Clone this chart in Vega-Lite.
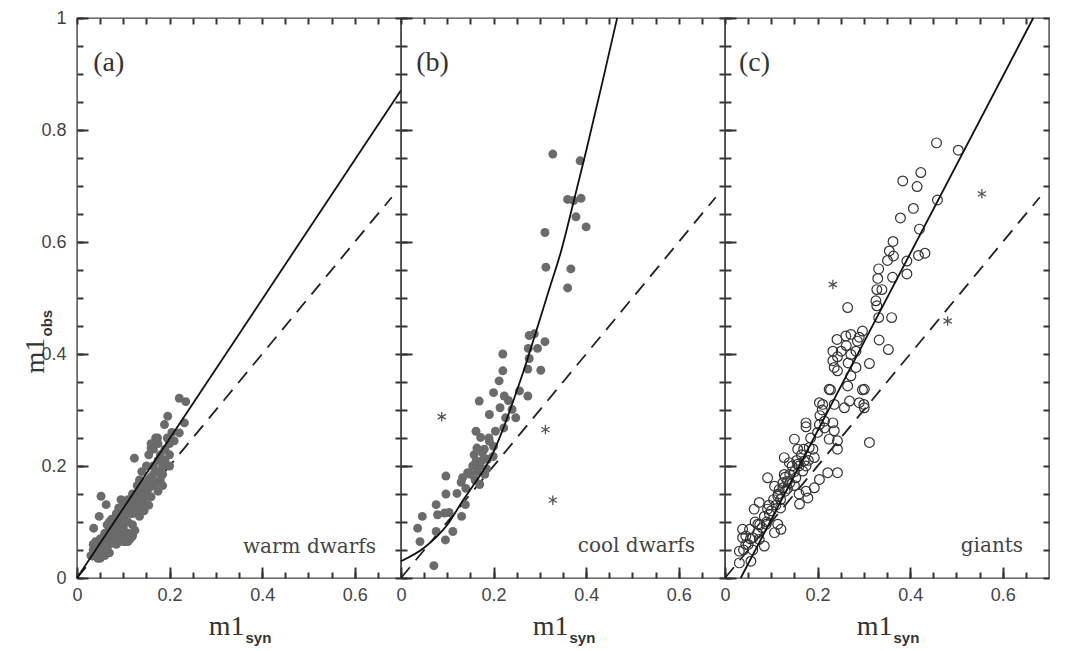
{
  "$schema": "https://vega.github.io/schema/vega-lite/v6.json",
  "padding": {"left": 20, "top": 8, "right": 5, "bottom": 0},
  "background": "white",
  "spacing": 0,
  "bounds": "flush",
  "config": {
    "view": {"stroke": "#444", "strokeWidth": 1.4},
    "axis": {"domain": false, "grid": false, "ticks": true, "tickColor": "#333333", "tickWidth": 2, "labelFont": "Liberation Sans", "labelFontSize": 18, "labelColor": "#444", "labelOverlap": false, "labelBound": false, "labelFlush": false, "zindex": 1, "titleFontWeight": "normal"}
  },
  "datasets": {
    "warm": [
      {"x":0.03,"y":0.04},{"x":0.035,"y":0.05},{"x":0.04,"y":0.045},{"x":0.045,"y":0.06},{"x":0.05,"y":0.04},{"x":0.05,"y":0.055},{"x":0.055,"y":0.065},{"x":0.06,"y":0.05},{"x":0.06,"y":0.07},{"x":0.065,"y":0.08},{"x":0.04,"y":0.065},{"x":0.035,"y":0.06},{"x":0.045,"y":0.035},{"x":0.055,"y":0.045},{"x":0.07,"y":0.06},{"x":0.07,"y":0.085},{"x":0.075,"y":0.07},{"x":0.08,"y":0.09},{"x":0.08,"y":0.1},{"x":0.085,"y":0.075},{"x":0.09,"y":0.065},{"x":0.09,"y":0.1},{"x":0.095,"y":0.11},{"x":0.1,"y":0.075},{"x":0.1,"y":0.09},{"x":0.105,"y":0.12},{"x":0.105,"y":0.065},{"x":0.11,"y":0.08},{"x":0.11,"y":0.1},{"x":0.115,"y":0.13},{"x":0.115,"y":0.07},{"x":0.12,"y":0.095},{"x":0.12,"y":0.115},{"x":0.125,"y":0.14},{"x":0.125,"y":0.085},{"x":0.13,"y":0.12},{"x":0.13,"y":0.15},{"x":0.135,"y":0.11},{"x":0.135,"y":0.13},{"x":0.14,"y":0.135},{"x":0.14,"y":0.16},{"x":0.145,"y":0.14},{"x":0.145,"y":0.12},{"x":0.15,"y":0.15},{"x":0.15,"y":0.17},{"x":0.155,"y":0.13},{"x":0.155,"y":0.16},{"x":0.16,"y":0.18},{"x":0.16,"y":0.145},{"x":0.165,"y":0.2},{"x":0.165,"y":0.165},{"x":0.17,"y":0.17},{"x":0.17,"y":0.19},{"x":0.175,"y":0.21},{"x":0.175,"y":0.155},{"x":0.18,"y":0.22},{"x":0.18,"y":0.175},{"x":0.185,"y":0.2},{"x":0.185,"y":0.185},{"x":0.185,"y":0.165},{"x":0.19,"y":0.21},{"x":0.19,"y":0.23},{"x":0.195,"y":0.25},{"x":0.2,"y":0.24},{"x":0.2,"y":0.22},{"x":0.17,"y":0.25},{"x":0.16,"y":0.24},{"x":0.165,"y":0.23},{"x":0.175,"y":0.24},{"x":0.155,"y":0.22},{"x":0.15,"y":0.2},{"x":0.14,"y":0.19},{"x":0.135,"y":0.175},{"x":0.13,"y":0.165},{"x":0.12,"y":0.15},{"x":0.11,"y":0.14},{"x":0.1,"y":0.135},{"x":0.095,"y":0.14},{"x":0.09,"y":0.125},{"x":0.085,"y":0.115},{"x":0.075,"y":0.105},{"x":0.07,"y":0.1},{"x":0.065,"y":0.095},{"x":0.06,"y":0.08},{"x":0.124,"y":0.214},{"x":0.052,"y":0.146},{"x":0.063,"y":0.131},{"x":0.048,"y":0.11},{"x":0.036,"y":0.089},{"x":0.095,"y":0.077},{"x":0.088,"y":0.065},{"x":0.221,"y":0.321},{"x":0.235,"y":0.315},{"x":0.196,"y":0.289},{"x":0.189,"y":0.274},{"x":0.232,"y":0.277},{"x":0.221,"y":0.259},{"x":0.174,"y":0.25},{"x":0.16,"y":0.232},{"x":0.205,"y":0.26},{"x":0.21,"y":0.245},{"x":0.2,"y":0.2},{"x":0.175,"y":0.19},{"x":0.165,"y":0.185},{"x":0.155,"y":0.175},{"x":0.145,"y":0.165},{"x":0.14,"y":0.145},{"x":0.13,"y":0.14},{"x":0.125,"y":0.125},{"x":0.115,"y":0.115},{"x":0.105,"y":0.1},{"x":0.1,"y":0.11},{"x":0.095,"y":0.095},{"x":0.09,"y":0.085},{"x":0.08,"y":0.08},{"x":0.075,"y":0.085},{"x":0.065,"y":0.07},{"x":0.06,"y":0.06},{"x":0.05,"y":0.07},{"x":0.042,"y":0.05},{"x":0.038,"y":0.04},{"x":0.05,"y":0.035},{"x":0.06,"y":0.04},{"x":0.065,"y":0.05},{"x":0.07,"y":0.045},{"x":0.08,"y":0.065},{"x":0.085,"y":0.06},{"x":0.11,"y":0.065},{"x":0.12,"y":0.075},{"x":0.1,"y":0.065}
    ],
    "cool": [
      {"x":0.328,"y":0.757},{"x":0.387,"y":0.745},{"x":0.36,"y":0.676},{"x":0.373,"y":0.674},{"x":0.389,"y":0.678},{"x":0.378,"y":0.645},{"x":0.4,"y":0.627},{"x":0.311,"y":0.617},{"x":0.313,"y":0.555},{"x":0.367,"y":0.552},{"x":0.36,"y":0.518},
      {"x":0.277,"y":0.433},{"x":0.288,"y":0.436},{"x":0.275,"y":0.41},{"x":0.295,"y":0.41},{"x":0.311,"y":0.422},{"x":0.274,"y":0.373},{"x":0.302,"y":0.371},{"x":0.22,"y":0.4},{"x":0.22,"y":0.37},{"x":0.212,"y":0.352},{"x":0.2,"y":0.331},{"x":0.169,"y":0.316},{"x":0.223,"y":0.325},{"x":0.232,"y":0.317},{"x":0.256,"y":0.334},{"x":0.274,"y":0.325},{"x":0.191,"y":0.292},{"x":0.214,"y":0.304},{"x":0.24,"y":0.301},{"x":0.226,"y":0.286},{"x":0.248,"y":0.286},{"x":0.162,"y":0.262},{"x":0.172,"y":0.251},{"x":0.204,"y":0.262},{"x":0.222,"y":0.268},{"x":0.191,"y":0.244},{"x":0.164,"y":0.232},{"x":0.158,"y":0.22},{"x":0.176,"y":0.224},{"x":0.187,"y":0.212},{"x":0.162,"y":0.208},{"x":0.199,"y":0.217},{"x":0.144,"y":0.188},{"x":0.133,"y":0.179},{"x":0.181,"y":0.185},{"x":0.17,"y":0.167},{"x":0.16,"y":0.175},{"x":0.13,"y":0.171},{"x":0.097,"y":0.182},{"x":0.097,"y":0.15},{"x":0.121,"y":0.151},{"x":0.139,"y":0.131},{"x":0.131,"y":0.11},{"x":0.076,"y":0.131},{"x":0.079,"y":0.113},{"x":0.094,"y":0.116},{"x":0.104,"y":0.117},{"x":0.046,"y":0.11},{"x":0.036,"y":0.089},{"x":0.041,"y":0.065},{"x":0.076,"y":0.083},{"x":0.112,"y":0.083},{"x":0.096,"y":0.068},{"x":0.071,"y":0.022},
      {"x":0.17,"y":0.2},{"x":0.18,"y":0.23},{"x":0.155,"y":0.2},{"x":0.175,"y":0.21},{"x":0.185,"y":0.195},{"x":0.165,"y":0.19},{"x":0.15,"y":0.185},{"x":0.14,"y":0.16},{"x":0.19,"y":0.25},{"x":0.2,"y":0.235},{"x":0.277,"y":0.392}
    ],
    "giants": [
      {"x":0.225,"y":0.337},{"x":0.265,"y":0.343},{"x":0.301,"y":0.337},{"x":0.204,"y":0.313},{"x":0.211,"y":0.31},{"x":0.236,"y":0.31},{"x":0.258,"y":0.304},{"x":0.269,"y":0.316},{"x":0.29,"y":0.313},{"x":0.301,"y":0.304},{"x":0.175,"y":0.277},{"x":0.175,"y":0.27},{"x":0.204,"y":0.274},{"x":0.215,"y":0.268},{"x":0.233,"y":0.277},{"x":0.236,"y":0.263},{"x":0.225,"y":0.248},{"x":0.243,"y":0.245},{"x":0.243,"y":0.23},{"x":0.312,"y":0.242},{"x":0.15,"y":0.248},{"x":0.157,"y":0.23},{"x":0.182,"y":0.233},{"x":0.193,"y":0.215},{"x":0.128,"y":0.215},{"x":0.139,"y":0.206},{"x":0.157,"y":0.203},{"x":0.171,"y":0.209},{"x":0.168,"y":0.191},{"x":0.153,"y":0.179},{"x":0.222,"y":0.188},{"x":0.243,"y":0.188},{"x":0.204,"y":0.176},{"x":0.193,"y":0.161},{"x":0.175,"y":0.155},{"x":0.161,"y":0.132},{"x":0.179,"y":0.143},{"x":0.128,"y":0.185},{"x":0.135,"y":0.173},{"x":0.125,"y":0.161},{"x":0.114,"y":0.146},{"x":0.092,"y":0.179},{"x":0.107,"y":0.164},{"x":0.117,"y":0.158},{"x":0.074,"y":0.135},{"x":0.063,"y":0.123},{"x":0.092,"y":0.123},{"x":0.096,"y":0.114},{"x":0.114,"y":0.096},{"x":0.121,"y":0.087},{"x":0.107,"y":0.081},{"x":0.089,"y":0.096},{"x":0.071,"y":0.096},{"x":0.053,"y":0.087},{"x":0.038,"y":0.087},{"x":0.038,"y":0.072},{"x":0.06,"y":0.072},{"x":0.074,"y":0.069},{"x":0.045,"y":0.06},{"x":0.085,"y":0.057},{"x":0.031,"y":0.048},{"x":0.056,"y":0.03},{"x":0.031,"y":0.027},
      {"x":0.457,"y":0.777},{"x":0.504,"y":0.764},{"x":0.423,"y":0.724},{"x":0.384,"y":0.709},{"x":0.415,"y":0.699},{"x":0.459,"y":0.675},{"x":0.407,"y":0.66},{"x":0.379,"y":0.643},{"x":0.42,"y":0.623},{"x":0.363,"y":0.601},{"x":0.355,"y":0.584},{"x":0.364,"y":0.575},{"x":0.351,"y":0.567},{"x":0.393,"y":0.566},{"x":0.418,"y":0.576},{"x":0.432,"y":0.58},{"x":0.393,"y":0.543},{"x":0.332,"y":0.552},{"x":0.33,"y":0.535},{"x":0.362,"y":0.537},{"x":0.328,"y":0.515},{"x":0.339,"y":0.515},{"x":0.326,"y":0.495},{"x":0.328,"y":0.486},{"x":0.265,"y":0.483},{"x":0.332,"y":0.465},{"x":0.36,"y":0.465},{"x":0.297,"y":0.441},{"x":0.242,"y":0.426},{"x":0.261,"y":0.432},{"x":0.272,"y":0.435},{"x":0.286,"y":0.423},{"x":0.29,"y":0.43},{"x":0.333,"y":0.425},{"x":0.353,"y":0.408},{"x":0.233,"y":0.405},{"x":0.251,"y":0.405},{"x":0.262,"y":0.415},{"x":0.272,"y":0.399},{"x":0.283,"y":0.405},{"x":0.233,"y":0.388},{"x":0.243,"y":0.395},{"x":0.312,"y":0.383},{"x":0.236,"y":0.376},{"x":0.283,"y":0.376},{"x":0.272,"y":0.361},{"x":0.228,"y":0.336},{"x":0.243,"y":0.37},{"x":0.266,"y":0.384},{"x":0.3,"y":0.31},{"x":0.297,"y":0.336},
      {"x":0.1,"y":0.12},{"x":0.105,"y":0.14},{"x":0.11,"y":0.13},{"x":0.115,"y":0.15},{"x":0.12,"y":0.14},{"x":0.125,"y":0.17},{"x":0.13,"y":0.155},{"x":0.13,"y":0.18},{"x":0.135,"y":0.16},{"x":0.14,"y":0.17},{"x":0.14,"y":0.185},{"x":0.145,"y":0.2},{"x":0.15,"y":0.19},{"x":0.155,"y":0.21},{"x":0.16,"y":0.2},{"x":0.165,"y":0.22},{"x":0.17,"y":0.23},{"x":0.175,"y":0.2},{"x":0.18,"y":0.21},{"x":0.185,"y":0.25},{"x":0.19,"y":0.23},{"x":0.2,"y":0.26},{"x":0.205,"y":0.29},{"x":0.21,"y":0.3},{"x":0.215,"y":0.28},{"x":0.085,"y":0.11},{"x":0.09,"y":0.1},{"x":0.095,"y":0.13},{"x":0.08,"y":0.09},{"x":0.07,"y":0.08},{"x":0.065,"y":0.1},{"x":0.055,"y":0.07},{"x":0.05,"y":0.06},{"x":0.045,"y":0.075},{"x":0.04,"y":0.05},{"x":0.06,"y":0.05},{"x":0.075,"y":0.095},{"x":0.12,"y":0.125},{"x":0.15,"y":0.165},{"x":0.16,"y":0.15}
    ],
    "stars": [
      {"p":"b","x":0.088,"y":0.288},{"p":"b","x":0.312,"y":0.265},{"p":"b","x":0.328,"y":0.139},
      {"p":"c","x":0.233,"y":0.524},{"p":"c","x":0.481,"y":0.459},{"p":"c","x":0.555,"y":0.686}
    ],
    "fits": [
      {"p":"a","k":"dash","x":0,"y":0},{"p":"a","k":"dash","x":0.68,"y":0.68},
      {"p":"b","k":"dash","x":0,"y":0},{"p":"b","k":"dash","x":0.68,"y":0.68},
      {"p":"c","k":"dash","x":0,"y":0},{"p":"c","k":"dash","x":0.68,"y":0.68},
      {"p":"a","k":"solid","x":0,"y":0},{"p":"a","k":"solid","x":0.7,"y":0.871},
      {"p":"c","k":"solid","x":0.034,"y":0},{"p":"c","k":"solid","x":0.666,"y":1.0},
      {"p":"b","k":"solid","x":0,"y":0.03},{"p":"b","k":"solid","x":0.05,"y":0.054},{"p":"b","k":"solid","x":0.1,"y":0.095},{"p":"b","k":"solid","x":0.133,"y":0.1375},{"p":"b","k":"solid","x":0.16,"y":0.17},{"p":"b","k":"solid","x":0.194,"y":0.215},{"p":"b","k":"solid","x":0.22,"y":0.265},{"p":"b","k":"solid","x":0.245,"y":0.322},{"p":"b","k":"solid","x":0.265,"y":0.37},{"p":"b","k":"solid","x":0.288,"y":0.43},{"p":"b","k":"solid","x":0.32,"y":0.515},{"p":"b","k":"solid","x":0.346,"y":0.584},{"p":"b","k":"solid","x":0.37,"y":0.662},{"p":"b","k":"solid","x":0.4,"y":0.7625},{"p":"b","k":"solid","x":0.435,"y":0.885},{"p":"b","k":"solid","x":0.467,"y":1.0}
    ],
    "tags": [
      {"p":"a","tag":"(a)","name":"warm dwarfs"},
      {"p":"b","tag":"(b)","name":"cool dwarfs"},
      {"p":"c","tag":"(c)","name":"giants"}
    ]
  },
  "hconcat": [
    {
      "width": 324, "height": 560,
      "resolve": {"axis": {"x": "independent", "y": "independent"}},
      "layer": [
        {
          "data": {"name": "fits"},
          "transform": [{"filter": "datum.p == 'a' && datum.k == 'dash'"}],
          "mark": {"type": "line", "color": "#222", "strokeWidth": 1.8, "strokeDash": [14, 9]},
          "encoding": {
            "x": {"field": "x", "type": "quantitative", "scale": {"domain": [0, 0.7], "nice": false, "zero": false},
              "axis": {"orient": "top", "values": [0,0.05,0.1,0.15,0.2,0.25,0.3,0.35,0.4,0.45,0.5,0.55,0.6,0.65], "labels": false, "title": null, "tickSize": 6, "offset": -6}},
            "y": {"field": "y", "type": "quantitative", "scale": {"domain": [0, 1], "nice": false, "zero": false},
              "axis": {"orient": "right", "values": [0,0.05,0.1,0.15,0.2,0.25,0.3,0.35,0.4,0.45,0.5,0.55,0.6,0.65,0.7,0.75,0.8,0.85,0.9,0.95,1], "labels": false, "title": null, "tickSize": 6, "offset": -6}}
          }
        },
        {
          "data": {"name": "warm"},
          "mark": {"type": "circle", "color": "#6b6b6b", "opacity": 1, "size": 80},
          "encoding": {
            "x": {"field": "x", "type": "quantitative",
              "axis": {"orient": "bottom", "values": [0,0.2,0.4,0.6], "labelExpr": "format(datum.value, '.1~f')", "labelPadding": 8, "tickSize": 11, "offset": -11,
                "title": "m1", "titleFont": "Liberation Serif", "titleFontSize": 28, "titleColor": "#333", "titleAlign": "right", "titleBaseline": "alphabetic", "titleX": 167, "titleY": 67}},
            "y": {"field": "y", "type": "quantitative",
              "axis": {"orient": "left", "values": [0,0.2,0.4,0.6,0.8,1], "labelExpr": "format(datum.value, '.1~f')", "labelPadding": 11, "tickSize": 11, "offset": -11,
                "title": "m1", "titleFont": "Liberation Serif", "titleFontSize": 28, "titleColor": "#333", "titleAngle": 270, "titleAlign": "left", "titleBaseline": "alphabetic", "titleX": -45, "titleY": 355}}
          }
        },
        {
          "data": {"name": "fits"},
          "transform": [{"filter": "datum.p == 'a' && datum.k == 'solid'"}],
          "mark": {"type": "line", "color": "#111", "strokeWidth": 1.8},
          "encoding": {
            "x": {"field": "x", "type": "quantitative",
              "axis": {"orient": "bottom", "values": [0,0.05,0.1,0.15,0.2,0.25,0.3,0.35,0.4,0.45,0.5,0.55,0.6,0.65], "labels": false, "tickSize": 6, "offset": -6,
                "title": "syn", "titleFont": "Liberation Sans", "titleFontSize": 15, "titleFontWeight": "bold", "titleColor": "#333", "titleAlign": "left", "titleBaseline": "alphabetic", "titleX": 168, "titleY": 70}},
            "y": {"field": "y", "type": "quantitative",
              "axis": {"orient": "left", "values": [0,0.05,0.1,0.15,0.2,0.25,0.3,0.35,0.4,0.45,0.5,0.55,0.6,0.65,0.7,0.75,0.8,0.85,0.9,0.95,1], "labels": false, "tickSize": 6, "offset": -6,
                "title": "obs", "titleFont": "Liberation Sans", "titleFontSize": 15, "titleFontWeight": "bold", "titleColor": "#333", "titleAngle": 270, "titleAlign": "left", "titleBaseline": "alphabetic", "titleX": -32, "titleY": 318}}
          }
        },
        {
          "data": {"name": "tags"},
          "transform": [{"filter": "datum.p == 'a'"}],
          "layer": [
            {"mark": {"type": "text", "font": "Liberation Serif", "fontSize": 28, "color": "#333", "align": "left", "baseline": "middle"},
             "encoding": {
               "x": {"datum": 0.035, "type": "quantitative", "axis": {"orient": "top", "values": [0,0.2,0.4,0.6], "labels": false, "title": null, "tickSize": 11, "offset": -11}},
               "y": {"datum": 0.92, "type": "quantitative", "axis": {"orient": "right", "values": [0,0.2,0.4,0.6,0.8,1], "labels": false, "title": null, "tickSize": 11, "offset": -11}},
               "text": {"field": "tag"}}},
            {"mark": {"type": "text", "font": "DejaVu Serif", "fontSize": 20, "color": "#444", "align": "right", "baseline": "alphabetic"},
             "encoding": {"x": {"datum": 0.646, "type": "quantitative", "axis": null}, "y": {"datum": 0.044, "type": "quantitative", "axis": null}, "text": {"field": "name"}}}
          ]
        }
      ]
    },
    {
      "width": 324, "height": 560,
      "resolve": {"axis": {"x": "independent", "y": "independent"}},
      "layer": [
        {
          "data": {"name": "fits"},
          "transform": [{"filter": "datum.p == 'b' && datum.k == 'dash'"}],
          "mark": {"type": "line", "color": "#222", "strokeWidth": 1.8, "strokeDash": [14, 9]},
          "encoding": {
            "x": {"field": "x", "type": "quantitative", "scale": {"domain": [0, 0.7], "nice": false, "zero": false},
              "axis": {"orient": "top", "values": [0,0.05,0.1,0.15,0.2,0.25,0.3,0.35,0.4,0.45,0.5,0.55,0.6,0.65], "labels": false, "title": null, "tickSize": 6, "offset": -6}},
            "y": {"field": "y", "type": "quantitative", "scale": {"domain": [0, 1], "nice": false, "zero": false},
              "axis": {"orient": "right", "values": [0,0.05,0.1,0.15,0.2,0.25,0.3,0.35,0.4,0.45,0.5,0.55,0.6,0.65,0.7,0.75,0.8,0.85,0.9,0.95,1], "labels": false, "title": null, "tickSize": 6, "offset": -6}}
          }
        },
        {
          "data": {"name": "cool"},
          "mark": {"type": "circle", "color": "#6b6b6b", "opacity": 1, "size": 80},
          "encoding": {
            "x": {"field": "x", "type": "quantitative",
              "axis": {"orient": "bottom", "values": [0,0.2,0.4,0.6], "labelExpr": "format(datum.value, '.1~f')", "labelPadding": 8, "tickSize": 11, "offset": -11,
                "title": "m1", "titleFont": "Liberation Serif", "titleFontSize": 28, "titleColor": "#333", "titleAlign": "right", "titleBaseline": "alphabetic", "titleX": 167, "titleY": 67}},
            "y": {"field": "y", "type": "quantitative",
              "axis": {"orient": "left", "values": [0,0.2,0.4,0.6,0.8,1], "labels": false, "title": null, "tickSize": 11, "offset": -11}}
          }
        },
        {
          "data": {"name": "fits"},
          "transform": [{"filter": "datum.p == 'b' && datum.k == 'solid'"}],
          "mark": {"type": "line", "color": "#111", "strokeWidth": 1.8, "interpolate": "monotone"},
          "encoding": {
            "x": {"field": "x", "type": "quantitative",
              "axis": {"orient": "bottom", "values": [0,0.05,0.1,0.15,0.2,0.25,0.3,0.35,0.4,0.45,0.5,0.55,0.6,0.65], "labels": false, "tickSize": 6, "offset": -6,
                "title": "syn", "titleFont": "Liberation Sans", "titleFontSize": 15, "titleFontWeight": "bold", "titleColor": "#333", "titleAlign": "left", "titleBaseline": "alphabetic", "titleX": 168, "titleY": 70}},
            "y": {"field": "y", "type": "quantitative",
              "axis": {"orient": "left", "values": [0,0.05,0.1,0.15,0.2,0.25,0.3,0.35,0.4,0.45,0.5,0.55,0.6,0.65,0.7,0.75,0.8,0.85,0.9,0.95,1], "labels": false, "title": null, "tickSize": 6, "offset": -6}}
          }
        },
        {
          "data": {"name": "stars"},
          "transform": [{"filter": "datum.p == 'b'"}],
          "mark": {"type": "point", "shape": "M0,-1L0,1M-0.87,-0.5L0.87,0.5M-0.87,0.5L0.87,-0.5", "filled": false, "stroke": "#111", "strokeWidth": 1.3, "size": 90},
          "encoding": {
            "x": {"field": "x", "type": "quantitative", "axis": null},
            "y": {"field": "y", "type": "quantitative", "axis": null}
          }
        },
        {
          "data": {"name": "tags"},
          "transform": [{"filter": "datum.p == 'b'"}],
          "layer": [
            {"mark": {"type": "text", "font": "Liberation Serif", "fontSize": 28, "color": "#333", "align": "left", "baseline": "middle"},
             "encoding": {
               "x": {"datum": 0.033, "type": "quantitative", "axis": {"orient": "top", "values": [0,0.2,0.4,0.6], "labels": false, "title": null, "tickSize": 11, "offset": -11}},
               "y": {"datum": 0.92, "type": "quantitative", "axis": {"orient": "right", "values": [0,0.2,0.4,0.6,0.8,1], "labels": false, "title": null, "tickSize": 11, "offset": -11}},
               "text": {"field": "tag"}}},
            {"mark": {"type": "text", "font": "DejaVu Serif", "fontSize": 20, "color": "#444", "align": "right", "baseline": "alphabetic"},
             "encoding": {"x": {"datum": 0.635, "type": "quantitative", "axis": null}, "y": {"datum": 0.046, "type": "quantitative", "axis": null}, "text": {"field": "name"}}}
          ]
        }
      ]
    },
    {
      "width": 324, "height": 560,
      "resolve": {"axis": {"x": "independent", "y": "independent"}},
      "layer": [
        {
          "data": {"name": "fits"},
          "transform": [{"filter": "datum.p == 'c' && datum.k == 'dash'"}],
          "mark": {"type": "line", "color": "#222", "strokeWidth": 1.8, "strokeDash": [14, 9]},
          "encoding": {
            "x": {"field": "x", "type": "quantitative", "scale": {"domain": [0, 0.7], "nice": false, "zero": false},
              "axis": {"orient": "top", "values": [0,0.05,0.1,0.15,0.2,0.25,0.3,0.35,0.4,0.45,0.5,0.55,0.6,0.65], "labels": false, "title": null, "tickSize": 6, "offset": -6}},
            "y": {"field": "y", "type": "quantitative", "scale": {"domain": [0, 1], "nice": false, "zero": false},
              "axis": {"orient": "right", "values": [0,0.05,0.1,0.15,0.2,0.25,0.3,0.35,0.4,0.45,0.5,0.55,0.6,0.65,0.7,0.75,0.8,0.85,0.9,0.95,1], "labels": false, "title": null, "tickSize": 6, "offset": -6}}
          }
        },
        {
          "data": {"name": "giants"},
          "mark": {"type": "point", "shape": "circle", "filled": false, "stroke": "#333", "strokeWidth": 1.2, "size": 95, "opacity": 1},
          "encoding": {
            "x": {"field": "x", "type": "quantitative",
              "axis": {"orient": "bottom", "values": [0,0.2,0.4,0.6], "labelExpr": "format(datum.value, '.1~f')", "labelPadding": 8, "tickSize": 11, "offset": -11,
                "title": "m1", "titleFont": "Liberation Serif", "titleFontSize": 28, "titleColor": "#333", "titleAlign": "right", "titleBaseline": "alphabetic", "titleX": 167, "titleY": 67}},
            "y": {"field": "y", "type": "quantitative",
              "axis": {"orient": "left", "values": [0,0.2,0.4,0.6,0.8,1], "labels": false, "title": null, "tickSize": 11, "offset": -11}}
          }
        },
        {
          "data": {"name": "fits"},
          "transform": [{"filter": "datum.p == 'c' && datum.k == 'solid'"}],
          "mark": {"type": "line", "color": "#111", "strokeWidth": 1.8},
          "encoding": {
            "x": {"field": "x", "type": "quantitative",
              "axis": {"orient": "bottom", "values": [0,0.05,0.1,0.15,0.2,0.25,0.3,0.35,0.4,0.45,0.5,0.55,0.6,0.65], "labels": false, "tickSize": 6, "offset": -6,
                "title": "syn", "titleFont": "Liberation Sans", "titleFontSize": 15, "titleFontWeight": "bold", "titleColor": "#333", "titleAlign": "left", "titleBaseline": "alphabetic", "titleX": 168, "titleY": 70}},
            "y": {"field": "y", "type": "quantitative",
              "axis": {"orient": "left", "values": [0,0.05,0.1,0.15,0.2,0.25,0.3,0.35,0.4,0.45,0.5,0.55,0.6,0.65,0.7,0.75,0.8,0.85,0.9,0.95,1], "labels": false, "title": null, "tickSize": 6, "offset": -6}}
          }
        },
        {
          "data": {"name": "stars"},
          "transform": [{"filter": "datum.p == 'c'"}],
          "mark": {"type": "point", "shape": "M0,-1L0,1M-0.87,-0.5L0.87,0.5M-0.87,0.5L0.87,-0.5", "filled": false, "stroke": "#111", "strokeWidth": 1.3, "size": 90},
          "encoding": {
            "x": {"field": "x", "type": "quantitative", "axis": null},
            "y": {"field": "y", "type": "quantitative", "axis": null}
          }
        },
        {
          "data": {"name": "tags"},
          "transform": [{"filter": "datum.p == 'c'"}],
          "layer": [
            {"mark": {"type": "text", "font": "Liberation Serif", "fontSize": 28, "color": "#333", "align": "left", "baseline": "middle"},
             "encoding": {
               "x": {"datum": 0.03, "type": "quantitative", "axis": {"orient": "top", "values": [0,0.2,0.4,0.6], "labels": false, "title": null, "tickSize": 11, "offset": -11}},
               "y": {"datum": 0.92, "type": "quantitative", "axis": {"orient": "right", "values": [0,0.2,0.4,0.6,0.8,1], "labelExpr": "format(datum.value, '.1~f')", "labelPadding": 7, "labelAlign": "left", "title": null, "tickSize": 11, "offset": -11}},
               "text": {"field": "tag"}}},
            {"mark": {"type": "text", "font": "DejaVu Serif", "fontSize": 20, "color": "#444", "align": "right", "baseline": "alphabetic"},
             "encoding": {"x": {"datum": 0.644, "type": "quantitative", "axis": null}, "y": {"datum": 0.046, "type": "quantitative", "axis": null}, "text": {"field": "name"}}}
          ]
        }
      ]
    }
  ]
}
